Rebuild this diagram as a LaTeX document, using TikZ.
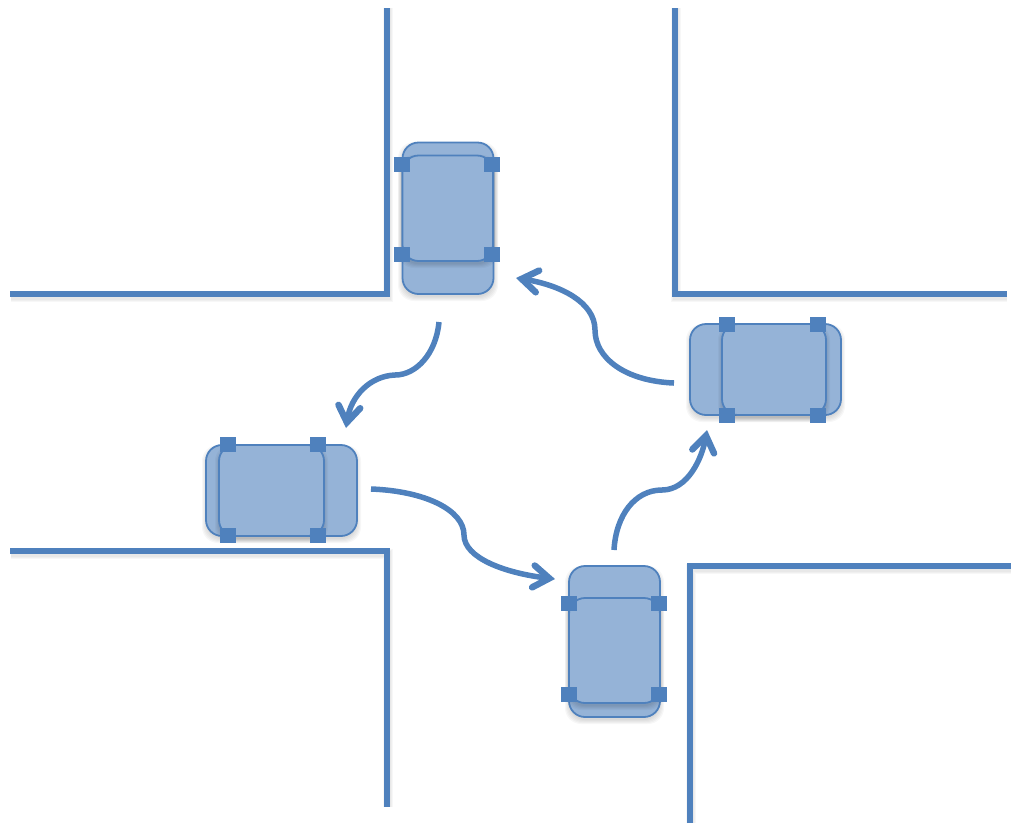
\documentclass[tikz,border=0pt]{standalone}
\usetikzlibrary{arrows.meta}
\definecolor{roadblue}{HTML}{4F81BD}
\definecolor{carfill}{HTML}{95B3D7}
\tikzset{
  road/.style={draw=roadblue,line width=5.5pt,miter limit=10},
  bodybox/.style={draw=roadblue,line width=1.8pt,fill=carfill,rounded corners=16pt},
  cabin/.style={draw=roadblue,line width=1.8pt,fill=carfill,rounded corners=16pt},
  wheel/.style={fill=roadblue,draw=none,minimum width=16pt,minimum height=15pt,inner sep=0pt,outer sep=0pt},
  move/.style={draw=roadblue,line width=5.5pt,-{Straight Barb[length=16pt,width=22pt,line width=6.5pt,line cap=round,line join=miter]}},
}
% soft shadow behind a rectangle, x0 y0 x1 y1 radius
\newcommand{\softshadow}[5]{%
  \foreach \g in {4,3,2,1,0}{%
    \fill[black,opacity=.03,rounded corners=#5pt]
      (#1-\g,#2-\g+4) rectangle (#3+\g,#4+\g+3);}%
}
\begin{document}
\begin{tikzpicture}[x=1pt,y=-1pt]
\useasboundingbox (0,0) rectangle (1011,823);
% road shadows
\foreach \g in {6,4,2}{
  \draw[black,opacity=.03,line width=4+\g pt] (388,8) -- (388,297) -- (11,297);
  \draw[black,opacity=.03,line width=4+\g pt] (676,8) -- (676,297) -- (1007,297);
  \draw[black,opacity=.03,line width=4+\g pt] (11,554) -- (388,554) -- (388,807);
  \draw[black,opacity=.03,line width=4+\g pt] (691,823) -- (691,569) -- (1011,569);
}
% roads
\draw[road] (387,8) -- (387,294) -- (10,294);
\draw[road] (675,8) -- (675,294) -- (1007,294);
\draw[road] (10,551) -- (387,551) -- (387,807);
\draw[road] (690,823) -- (690,566) -- (1011,566);
% car shadows
\softshadow{402}{142}{494}{294}{16}
\softshadow{206}{445}{357}{536}{16}
\softshadow{569}{566}{660}{717}{16}
\softshadow{690}{324}{841}{415}{16}
% top car
\draw[bodybox] (402.5,142.5) rectangle (493.5,294);
\softshadow{402}{155}{494}{261}{16}
\draw[cabin] (402.5,155.5) rectangle (493,261);
\node[wheel] (w1a) at (402,164.5) {};
\node[wheel] (w1b) at (492,164.5) {};
\node[wheel] (w1c) at (402,254.5) {};
\node[wheel] (w1d) at (492,254.5) {};
% left car
\draw[bodybox] (206,445) rectangle (357,536);
\softshadow{219}{445}{324}{536}{16}
\draw[cabin] (219,445) rectangle (324,536);
\node[wheel] (w2a) at (228,444) {};
\node[wheel] (w2b) at (318,444) {};
\node[wheel] (w2c) at (228,535) {};
\node[wheel] (w2d) at (318,535) {};
% bottom car
\draw[bodybox] (569,566) rectangle (660,717);
\softshadow{569}{598}{660}{703}{16}
\draw[cabin] (569,598) rectangle (660,703);
\node[wheel] (w3a) at (569,603.5) {};
\node[wheel] (w3b) at (659,603.5) {};
\node[wheel] (w3c) at (569,694) {};
\node[wheel] (w3d) at (659,694) {};
% right car
\draw[bodybox] (690,324) rectangle (841,415);
\softshadow{722}{324}{826}{415}{16}
\draw[cabin] (722,324) rectangle (826,415);
\node[wheel] (w4a) at (727,324) {};
\node[wheel] (w4b) at (818,324) {};
\node[wheel] (w4c) at (727,415) {};
\node[wheel] (w4d) at (818,415) {};
% motion arrows
\coordinate (a1s) at (439,322);
\coordinate (a1m) at (395,375);
\coordinate (a1e) at (346,428);
\coordinate (a2s) at (371,489);
\coordinate (a2m) at (464,535);
\coordinate (a2e) at (555,579);
\coordinate (a3s) at (614,550);
\coordinate (a3m) at (662,490);
\coordinate (a3e) at (707,430);
\coordinate (a4s) at (674,383);
\coordinate (a4m) at (595,330);
\coordinate (a4e) at (516,278);
\draw[move] (a1s) .. controls (436,354) and (416,375) .. (a1m) .. controls (370,376) and (351,396) .. (a1e);
\draw[move] (a2s) .. controls (425,491) and (464,510) .. (a2m) .. controls (464,558) and (505,573) .. (a2e);
\draw[move] (a3s) .. controls (616,515) and (635,490) .. (a3m) .. controls (688,490) and (702,458) .. (a3e);
\draw[move] (a4s) .. controls (625,381) and (595,358) .. (a4m) .. controls (595,302) and (560,285) .. (a4e);
\end{tikzpicture}
\end{document}
